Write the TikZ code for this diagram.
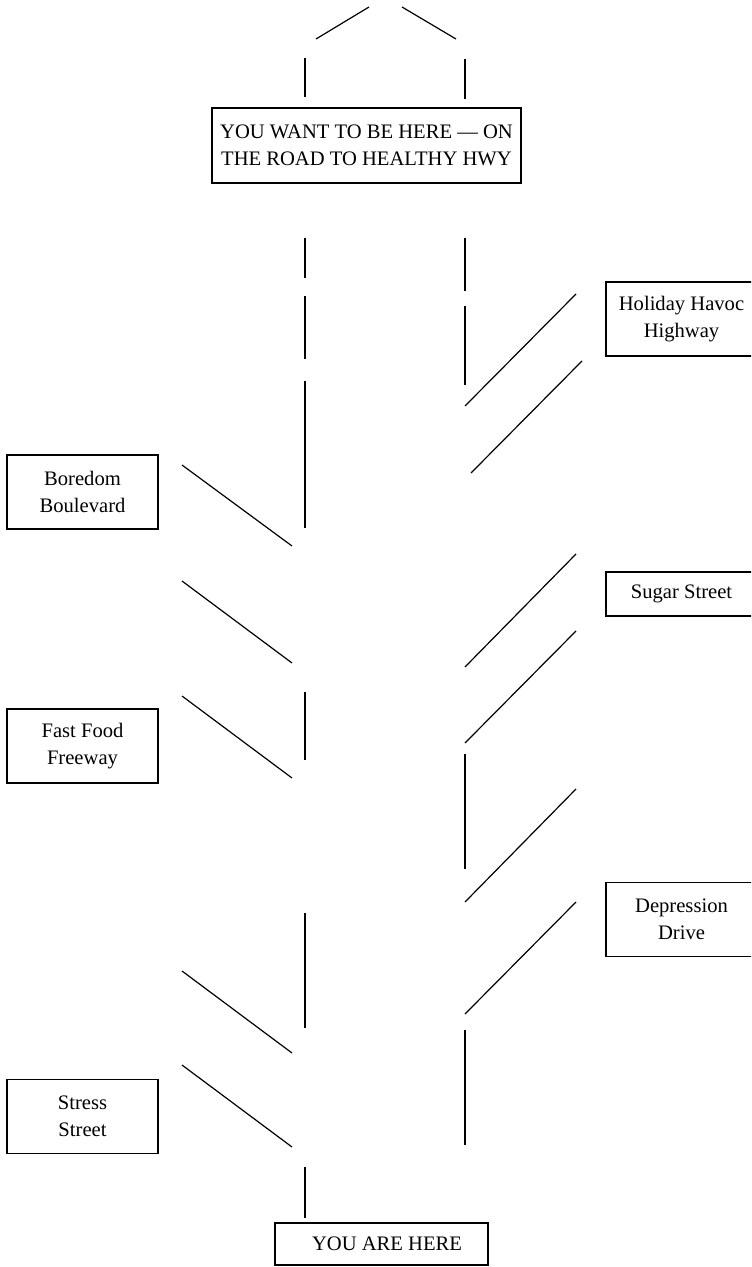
\documentclass[tikz,border=0pt]{standalone}
\usepackage{fontspec}
\setmainfont{Liberation Serif}
\begin{document}
\begin{tikzpicture}[x=0.5pt,y=-0.5pt,
  road/.style={line width=0.6pt, line cap=butt},
  sign/.style={draw, line width=0.65pt, inner sep=0pt, align=center,
    font=\fontsize{10.3pt}{13.7pt}\selectfont},
  sidesign/.style={sign, minimum width=75.5pt, minimum height=37pt}]
\clip (0,0) rectangle (751,1267);
\fill[white] (0,0) rectangle (751,1267);
% signs
\node[sign, minimum width=154.5pt, minimum height=37.5pt] (goal) at (366.5,145.5)
  {YOU WANT TO BE HERE — ON\\THE ROAD TO HEALTHY HWY};
\node[sidesign] (holiday) at (681.5,319) {Holiday Havoc\\Highway};
\node[sidesign, minimum height=22pt] (sugar) at (681.5,594) {Sugar Street};
\node[sidesign] (depression) at (681.5,919.5) {Depression\\Drive};
\node[sidesign] (boredom) at (82.5,492) {Boredom\\Boulevard};
\node[sidesign] (fastfood) at (82.5,746) {Fast Food\\Freeway};
\node[sidesign] (stress) at (82.5,1116.5) {Stress\\Street};
\node[sign, minimum width=106.5pt, minimum height=21pt] (here) at (381.5,1244)
  {\hspace*{5.5pt}YOU ARE HERE};
% roof
\draw[road] (316,39) -- (369,7);
\draw[road] (402,7) -- (456,39);
\draw[road] (305,58) -- (305,97);
\draw[road] (465,59) -- (465,99);
% left edge of road
\draw[road] (305,238) -- (305,278);
\draw[road] (305,296) -- (305,359);
\draw[road] (305,381) -- (305,528);
\draw[road] (305,692) -- (305,760);
\draw[road] (305,913) -- (305,1028);
\draw[road] (305,1167) -- (305,1218);
% right edge of road
\draw[road] (465,238) -- (465,291);
\draw[road] (465,306) -- (465,385);
\draw[road] (465,754) -- (465,869);
\draw[road] (465,1030) -- (465,1145);
% right branches
\draw[road] (465,406) -- (576,294);
\draw[road] (471,473) -- (582,361);
\draw[road] (465,667) -- (576,554);
\draw[road] (465,743) -- (576,631);
\draw[road] (465,902) -- (576,789);
\draw[road] (465,1014) -- (576,902);
% left branches
\draw[road] (182,465) -- (292,546);
\draw[road] (182,581) -- (292,663);
\draw[road] (182,696) -- (292,778);
\draw[road] (182,971) -- (292,1053);
\draw[road] (182,1065) -- (292,1147);
\end{tikzpicture}
\end{document}
